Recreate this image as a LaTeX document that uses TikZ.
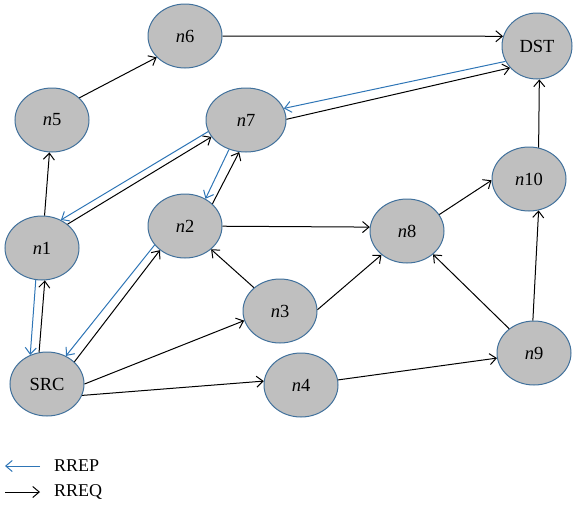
\documentclass[tikz,border=0pt]{standalone}
\usepackage{fontspec}
\setmainfont{Liberation Serif}
\usetikzlibrary{shapes.geometric,arrows.meta}
\definecolor{nodefill}{HTML}{BFBFBF}
\definecolor{nodeedge}{HTML}{41719C}
\definecolor{replyblue}{HTML}{2E75B6}
\newcommand\peerlabel[1]{\textit{n}#1}
\begin{document}
\begin{tikzpicture}[x=1pt,y=-1pt,
  peer/.style={ellipse, draw=nodeedge, fill=nodefill, line width=1pt,
    inner sep=0pt, minimum width=74pt, minimum height=64pt,
    font=\fontsize{18.5}{22}\selectfont},
  tip/.style={-{Straight Barb[length=6.5pt,width=11pt]}},
  rreq/.style={draw=black, line width=1pt, tip},
  rrep/.style={draw=replyblue, line width=1pt, tip},
  legendtext/.style={anchor=west, inner sep=0pt, font=\fontsize{18}{22}\selectfont},
]
\path[use as bounding box] (0,0) rectangle (573,504);

% network nodes
\node[peer] (SRC) at (47,384) {SRC};
\node[peer] (n1)  at (42,248) {\peerlabel{1}};
\node[peer] (n2)  at (185,226) {\peerlabel{2}};
\node[peer] (n3)  at (280,311) {\peerlabel{3}};
\node[peer] (n4)  at (301,385) {\peerlabel{4}};
\node[peer] (n5)  at (52,120) {\peerlabel{5}};
\node[peer] (n6)  at (185,36) {\peerlabel{6}};
\node[peer, minimum width=80pt] (n7) at (246,120) {\peerlabel{7}};
\node[peer] (n8)  at (407,231) {\peerlabel{8}};
\node[peer] (n9)  at (534,353) {\peerlabel{9}};
\node[peer] (n10) at (529,179) {\peerlabel{10}};
\node[peer, minimum width=70pt, minimum height=66pt] (DST) at (537,46) {DST};

% route requests (black) and route replies (blue)
\draw[rreq] (SRC.104) -- (n1.275);
\draw[rrep] (n1.259) -- (SRC.120);
\draw[rreq] (n1) -- (n5);
\draw[rreq] (n5.39) -- (n6.217);
\draw[rreq] (n6) -- (DST.164);
\draw[rreq] (n1.43) -- (n7.206);
\draw[rrep] (n7.197) -- (n1.56);
\draw[rreq] (SRC.39) -- (n2.224);
\draw[rrep] (n2.212) -- (SRC.56);
\draw[rreq] (n2.39) -- (n7.258);
\draw[rrep] (n7.240) -- (n2.53);
\draw[rreq] (n7.1) -- (DST.219);
\draw[rrep] (DST.206) -- (n7.17);
\draw[rreq] (SRC.0) -- (n3.195);
\draw[rreq] (SRC.342) -- (n4.174);
\draw[rreq] (n3) -- (n2);
\draw[rreq] (n2) -- (n8.174);
\draw[rreq] (n3.2) -- (n8.223);
\draw[rreq] (n8.27) -- (n10.182);
\draw[rreq] (n9) -- (n8.318);
\draw[rreq] (n4) -- (n9);
\draw[rreq] (n9.92) -- (n10.287);
\draw[rreq] (n10.73) -- (DST.274);

% legend
\coordinate (repA) at (40,466);
\coordinate (repB) at (5,466);
\coordinate (reqA) at (5,492);
\coordinate (reqB) at (40,492);
\draw[rrep] (repA) -- (repB);
\draw[rreq] (reqA) -- (reqB);
\node[legendtext] (repText) at (54,466) {RREP};
\node[legendtext] (reqText) at (54,492) {RREQ};
\end{tikzpicture}
\end{document}
